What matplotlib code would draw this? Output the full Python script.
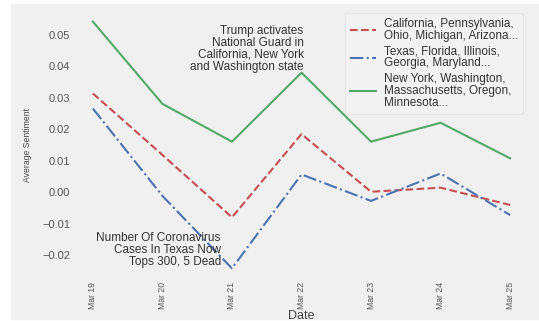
"""Average sentiment by state group, Mar 19-25."""

import matplotlib
matplotlib.use("Agg")
import matplotlib.pyplot as plt
from matplotlib.patches import Rectangle

dates = ["Mar 19", "Mar 20", "Mar 21", "Mar 22", "Mar 23", "Mar 24", "Mar 25"]

group_a = [0.0313, 0.0118, -0.0080, 0.0184, 0.0001, 0.0014, -0.0041]
group_b = [0.0265, -0.0012, -0.0242, 0.0056, -0.0028, 0.0059, -0.0073]
group_c = [0.0541, 0.0280, 0.0160, 0.0379, 0.0160, 0.0220, 0.0107]

labels = [
    "California, Pennsylvania,\nOhio, Michigan, Arizona...",
    "Texas, Florida, Illinois,\nGeorgia, Maryland...",
    "New York, Washington,\nMassachusetts, Oregon,\nMinnesota...",
]

note_texas = "Number Of Coronavirus\nCases In Texas Now\nTops 300, 5 Dead"
note_guard = "Trump activates\nNational Guard in\nCalifornia, New York\nand Washington state"

BG = "#f0f0f0"
plt.rcParams["font.family"] = ["Liberation Sans", "DejaVu Sans"]

fig = plt.figure(figsize=(5.39, 3.21), dpi=100, facecolor="white")
fig.patches.append(Rectangle((11 / 539, 2 / 321), 1, 1 - 6 / 321,
                             transform=fig.transFigure, color=BG, zorder=-10))

ax = fig.add_axes([72 / 539, 41 / 321, 459 / 539, 271 / 321])
ax.set_facecolor(BG)
for s in ax.spines.values():
    s.set_visible(False)

x = list(range(len(dates)))
ax.plot(x, group_a, color="#c44e52", lw=1.5, ls="--", label=labels[0])
ax.plot(x, group_b, color="#4c72b0", lw=1.5, ls="-.", label=labels[1])
ax.plot(x, group_c, color="#55a868", lw=1.5, ls="-", label=labels[2])

ax.set_xlim(-0.3, 6.3)
ax.set_ylim(-0.0279, 0.0581)
ax.set_xticks(x)
ax.set_xticklabels(dates, rotation=90, fontsize=6.2, color="#555555")
ax.set_yticks([-0.02, -0.01, 0.0, 0.01, 0.02, 0.03, 0.04, 0.05])
ax.set_yticklabels([f"{v:.2f}".replace("-", "\u2212") for v in ax.get_yticks()],
                   fontsize=8, color="#555555")
ax.tick_params(axis="both", length=0)
ax.tick_params(axis="x", pad=1.5)
ax.tick_params(axis="y", pad=1.5)

ax.set_ylabel("Average Sentiment", fontsize=6.2, color="#444444")
ax.yaxis.set_label_coords(-0.087, 0.5)
ax.set_xlabel("Date", fontsize=9, color="#444444")
ax.xaxis.set_label_coords(0.5, -0.11)

ax.annotate(note_guard, xy=(3, group_c[3]), xytext=(1.5, 0), textcoords="offset points",
            ha="right", va="bottom", multialignment="right", fontsize=8.5,
            linespacing=1.0, color="#333333")
ax.annotate(note_texas, xy=(2, group_b[2]), xytext=(-8, 0), textcoords="offset points",
            ha="right", va="bottom", multialignment="right", fontsize=8.5,
            linespacing=1.0, color="#333333")

leg = ax.legend(loc="upper right", bbox_to_anchor=(0.983, 0.985), borderaxespad=0,
                fontsize=8.5, frameon=True, handlelength=2.2, labelspacing=0.3,
                borderpad=0.4, handletextpad=0.7)
leg.get_frame().set_facecolor("#f3f3f3")
leg.get_frame().set_edgecolor("#e4e4e4")
leg.get_frame().set_linewidth(0.8)
for t in leg.get_texts():
    t.set_color("#333333")
    t.set_linespacing(1.0)

fig.savefig("out.png", dpi=100, facecolor=fig.get_facecolor())
